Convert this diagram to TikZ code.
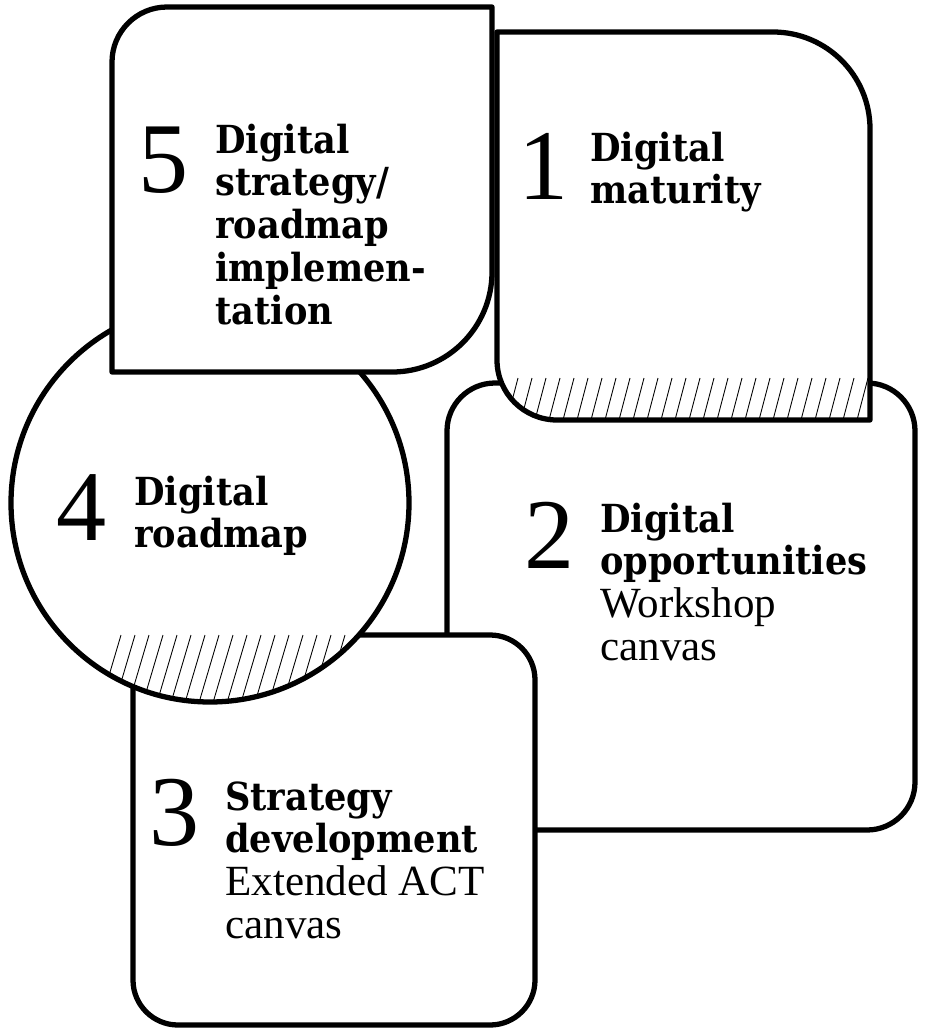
\documentclass[tikz,border=0pt]{standalone}
\usepackage{fontspec}
\setmainfont{Liberation Serif}
\newfontfamily\headfont[FakeStretch=0.91]{DejaVu Serif}

\tikzset{
  shapeline/.style={line width=3pt, fill=white, line join=round},
  hatchline/.style={line width=0.5pt},
  stepnum/.style={anchor=base west, inner sep=0pt, font=\fontsize{57}{57}\selectfont},
  steptext/.style={anchor=base west, inner sep=0pt},
}
\newcommand{\bfline}{\headfont\bfseries\fontsize{22}{24.4}\selectfont}
\newcommand{\rmline}{\normalfont\fontsize{24.5}{24.4}\selectfont}
\newcommand{\steptxt}[1]{\parbox[t]{7cm}{\raggedright #1}}

\begin{document}
\begin{tikzpicture}[x=0.02cm, y=-0.02cm]
      \useasboundingbox (0,0) rectangle (932,1035);

      % 2 and 3
      \draw[shapeline, rounded corners=0.96cm] (447,383) rectangle (915,830);
      \draw[shapeline, rounded corners=0.9cm] (133,635) rectangle (535,1025);

      % 4
      \draw[shapeline] (210,503) circle[radius=199];
      \begin{scope}
        \clip (210,503) circle[radius=199];
        \foreach \x in {100,114,...,356}
          \draw[hatchline] (\x,706) -- (\x+21,635);
      \end{scope}

      % 5
      \draw[shapeline] (112,372) -- (112,62) arc[start angle=180, end angle=270, radius=55]
        -- (492,7) -- (492,272) arc[start angle=0, end angle=90, radius=100] -- cycle;

      % 1
      \draw[shapeline] (497,32) -- (773,32) arc[start angle=270, end angle=360, radius=97]
        -- (870,420) -- (557,420) arc[start angle=90, end angle=180, radius=60] -- cycle;
      \begin{scope}
        \clip (497,32) -- (773,32) arc[start angle=270, end angle=360, radius=97]
          -- (870,420) -- (557,420) arc[start angle=90, end angle=180, radius=60] -- cycle;
        \foreach \x in {507,521,...,871}
          \draw[hatchline] (\x,420) -- (\x+11,378);
      \end{scope}

      \node[stepnum] (n5) at (138,192) {5};
      \node[steptext] (t5) at (215,153) {\steptxt{\bfline Digital\\strategy/\\roadmap\\implemen-\\tation}};
      \node[stepnum] (n1) at (518,199) {1};
      \node[steptext] (t1) at (590,161) {\steptxt{\bfline Digital\\maturity}};
      \node[stepnum] (n4) at (56,540) {4};
      \node[steptext] (t4) at (134,505) {\steptxt{\bfline Digital\\roadmap}};
      \node[stepnum] (n2) at (524,568) {2};
      \node[steptext] (t2) at (600,532) {\steptxt{\bfline Digital\\opportunities\\\rmline Workshop\\canvas}};
      \node[stepnum] (n3) at (149,845) {3};
      \node[steptext] (t3) at (225,810) {\steptxt{\bfline Strategy\\development\\\rmline Extended ACT\\canvas}};
    \end{tikzpicture}
\end{document}
